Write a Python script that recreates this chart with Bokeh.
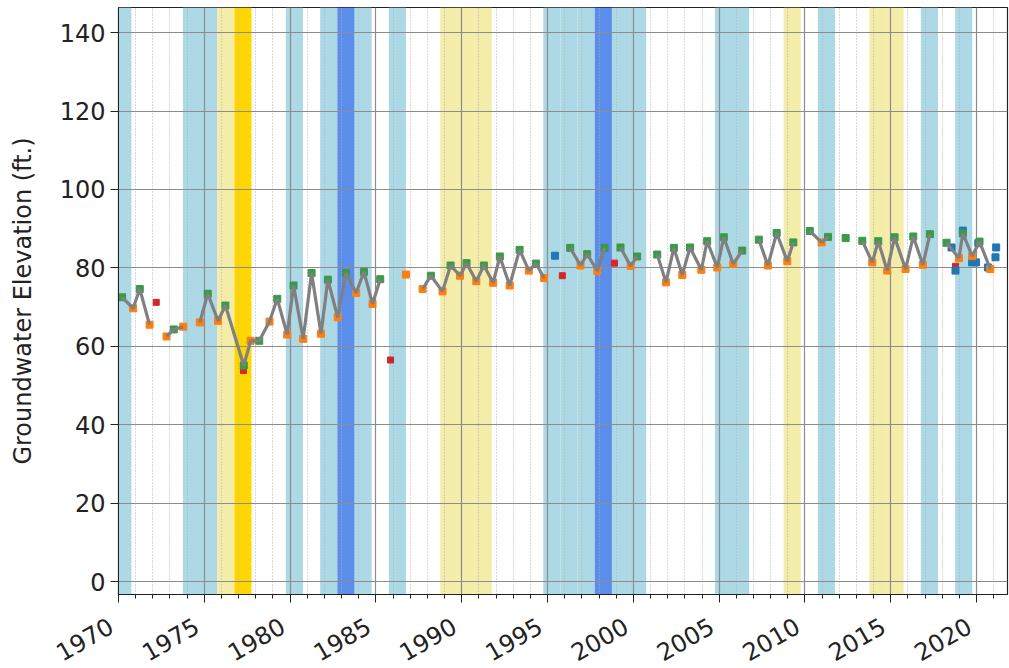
import numpy as np
from math import pi
from bokeh.plotting import figure
from bokeh.layouts import column
from bokeh.models import Range1d, FixedTicker
from bokeh.embed import file_html
from bokeh.resources import INLINE

# Water-year classification (water year N runs Oct N-1 .. Sep N)
wet_years = [1970, 1974, 1975, 1980, 1982, 1984, 1986, 1995, 1996, 1997,
             1999, 2000, 2005, 2006, 2011, 2017, 2019]
very_wet_years = [1983, 1998]
dry_years = [1976, 1989, 1990, 1991, 2009, 2014, 2015]
critical_years = [1977]

# Semi-annual well readings (S = spring, F = fall); None = missing or rejected
meas_year = [1970.21, 1970.85, 1971.24, 1971.81, 1972.25, 1972.80, 1973.22, 1973.77,
             1974.25, 1974.74, 1975.20, 1975.80, 1976.23, 1977.30, 1977.70, 1978.20,
             1978.80, 1979.25, 1979.83, 1980.20, 1980.76, 1981.25, 1981.80, 1982.20,
             1982.77, 1983.25, 1983.85, 1984.30, 1984.80, 1985.25, 1985.85, 1986.25,
             1986.75, 1987.25, 1987.72, 1988.20, 1988.88, 1989.35, 1989.90, 1990.28,
             1990.85, 1991.29, 1991.83, 1992.22, 1992.79, 1993.37, 1993.91, 1994.32,
             1994.80, 1995.43, 1995.86, 1996.32, 1996.92, 1997.31, 1997.90, 1998.32,
             1998.90, 1999.25, 1999.84, 2000.22, 2000.85, 2001.39, 2001.90, 2002.36,
             2002.85, 2003.30, 2003.96, 2004.30, 2004.89, 2005.27, 2005.82, 2006.34,
             2006.85, 2007.31, 2007.84, 2008.35, 2008.97, 2009.32, 2009.85, 2010.28,
             2010.97, 2011.34, 2011.85, 2012.37, 2012.85, 2013.34, 2013.92, 2014.27,
             2014.79, 2015.22, 2015.86, 2016.31, 2016.87, 2017.28, 2017.85, 2018.25,
             2018.97, 2019.20, 2019.74, 2020.17, 2020.80]
meas_elev = [72.5, 69.7, 74.6, 65.5, None, 62.5, 64.3, 65.0,
             None, 66.1, 73.4, 66.5, 70.4, 55.1, 61.4, 61.4,
             66.3, 72.1, 63.0, 75.5, 61.9, 78.7, 63.2, 77.0,
             67.4, 78.7, 73.6, 79.0, 70.8, 77.1, None, None,
             78.3, None, 74.6, 78.0, 74.0, 80.6, 78.0, 81.2,
             76.6, 80.6, 76.2, 82.9, 75.5, 84.6, 79.3, 81.1,
             77.4, None, None, 85.1, 80.6, 83.5, 79.2, 85.1,
             None, 85.2, 80.5, 82.9, None, 83.4, 76.3, 85.1,
             78.2, 85.2, 79.5, 86.8, 80.1, 87.8, 81.0, 84.4,
             None, 87.2, 80.6, 88.9, 81.7, 86.5, None, 89.4,
             86.5, 87.9, None, 87.6, None, 86.9, 81.4, 86.8,
             79.3, 87.8, 79.7, 88.0, 80.8, 88.6, None, 86.4,
             82.5, 88.8, 83.0, 86.7, 79.7]
meas_season = ["S", "F", "S", "F", "S", "F", "S", "F",
               "S", "F", "S", "F", "S", "S", "F", "S",
               "F", "S", "F", "S", "F", "S", "F", "S",
               "F", "S", "F", "S", "F", "S", "F", "S",
               "F", "S", "F", "S", "F", "S", "F", "S",
               "F", "S", "F", "S", "F", "S", "F", "S",
               "F", "S", "F", "S", "F", "S", "F", "S",
               "F", "S", "F", "S", "F", "S", "F", "S",
               "F", "S", "F", "S", "F", "S", "F", "S",
               "F", "S", "F", "S", "F", "S", "F", "S",
               "F", "S", "F", "S", "F", "S", "F", "S",
               "F", "S", "F", "S", "F", "S", "F", "S",
               "F", "S", "F", "S", "F"]

# Questionable readings
flag_year = [1972.20, 1977.28, 1985.85, 1995.86, 1998.90, 2018.77]
flag_elev = [71.2, 53.8, 56.5, 78.0, 81.2, 80.4]

# Readings from supplemental monitoring
other_year = [1995.43, 2018.54, 2018.77, 2019.20, 2019.74, 2019.97, 2020.10,
              2020.66, 2021.10, 2021.14]
other_elev = [83.1, 85.2, 79.3, 89.5, 81.4, 81.4, 86.3, 80.1, 82.7, 85.2]

x_ticks = [1970, 1975, 1980, 1985, 1990, 1995, 2000, 2005, 2010, 2015, 2020]
x_tick_labels = ["1970", "1975", "1980", "1985", "1990", "1995", "2000", "2005",
                 "2010", "2015", "2020"]
y_ticks = [0, 20, 40, 60, 80, 100, 120, 140]

X0, X1 = 1970.0, 2021.8
Y0, Y1 = -3.3, 146.4
FONT = "DejaVu Sans"
INK = "#222222"

W = 1009
LEFT, RIGHT = 118, 2          # frame margins (px)
MAIN_H, STRIP_H = 604, 64     # chart and year-label strip heights (px)

p = figure(width=W, height=MAIN_H, output_backend="svg", toolbar_location=None,
           x_range=Range1d(X0, X1), y_range=Range1d(Y0, Y1),
           min_border_left=LEFT, min_border_right=RIGHT, min_border_top=7,
           min_border_bottom=10)
p.frame_align = False
p.background_fill_color = "white"
p.border_fill_color = "white"
p.outline_line_color = INK
p.outline_line_width = 1.2


def bands(years, color, alpha=1.0):
    yrs = np.array(years, dtype=float)
    p.quad(left=yrs - 0.25, right=yrs + 0.75, bottom=Y0, top=Y1,
           fill_color=color, fill_alpha=alpha, line_color=None, level="image")


bands(wet_years, "#ADD8E6")
bands(very_wet_years, "#5B8DEB")
bands(dry_years, "#F0E68C", 0.75)
bands(critical_years, "#FFD700")

# Grid
minor_years = list(range(1970, 2022))
p.xgrid.ticker = FixedTicker(ticks=x_ticks, minor_ticks=minor_years)
p.xgrid.grid_line_color = "#8c8c8c"
p.xgrid.grid_line_width = 1.2
p.xgrid.minor_grid_line_color = "#b0b0b0"
p.xgrid.minor_grid_line_dash = "1 2"
p.xgrid.minor_grid_line_width = 1
p.ygrid.ticker = FixedTicker(ticks=y_ticks)
p.ygrid.grid_line_color = "#8c8c8c"
p.ygrid.grid_line_width = 1.2

# Measurements
yr = np.array(meas_year, dtype=float)
ev = np.array([np.nan if v is None else v for v in meas_elev], dtype=float)
season = np.array(meas_season)
spring = (season == "S") & ~np.isnan(ev)
fall = (season == "F") & ~np.isnan(ev)

p.scatter(flag_year, flag_elev, marker="square", size=6, fill_color="#d62728",
          line_color="#d62728")
p.scatter(other_year, other_elev, marker="square", size=7, fill_color="#1f77b4",
          line_color="#1f77b4")
p.scatter(yr[spring], ev[spring], marker="square", size=7, fill_color="#3a9a48",
          line_color="#3a9a48")
p.scatter(yr[fall], ev[fall], marker="square", size=7, fill_color="#ff7f0e",
          line_color="#ff7f0e")
p.line(yr, ev, line_color="#808080", line_width=3.2)

# Axes: the x axis carries tick marks; its year labels sit in the strip below
p.xaxis.ticker = FixedTicker(ticks=x_ticks, minor_ticks=minor_years)
p.xaxis.major_label_text_color = None
p.xaxis.major_label_standoff = 0
p.yaxis.ticker = FixedTicker(ticks=y_ticks)
p.yaxis.axis_label = "Groundwater Elevation (ft.)"
for ax in (p.xaxis[0], p.yaxis[0]):
    ax.axis_line_color = INK
    ax.major_tick_line_color = INK
    ax.minor_tick_line_color = INK
    ax.major_tick_out = 8
    ax.major_tick_in = 0
    ax.minor_tick_out = 4
    ax.minor_tick_in = 0
p.yaxis.major_label_text_font = FONT
p.yaxis.major_label_text_font_size = "24px"
p.yaxis.major_label_text_color = INK
p.yaxis.minor_tick_line_color = None
p.yaxis.axis_label_text_font = FONT
p.yaxis.axis_label_text_font_size = "24px"
p.yaxis.axis_label_text_font_style = "normal"
p.yaxis.axis_label_text_color = INK
p.yaxis.axis_label_standoff = 20
p.yaxis.major_label_standoff = 5

# Year-label strip sharing the chart's horizontal scale across the full width
px_per_year = (W - LEFT - RIGHT) / (X1 - X0)
strip = figure(width=W, height=STRIP_H, output_backend="svg", toolbar_location=None,
               x_range=Range1d(X0 - LEFT / px_per_year, X1 + RIGHT / px_per_year),
               y_range=Range1d(0, STRIP_H), min_border=0,
               x_axis_location=None, y_axis_location=None)
strip.frame_align = False
strip.grid.visible = False
strip.outline_line_color = None
strip.background_fill_color = "white"
strip.border_fill_color = "white"
LABEL_Y = 37
strip.text(x=x_ticks, y=[LABEL_Y] * len(x_ticks), text=x_tick_labels,
           angle=pi / 6, text_align="right", text_baseline="bottom",
           x_offset=-3, text_font={"value": FONT}, text_font_size="24px",
           text_color=INK)

open("out.html", "w").write(file_html(column(p, strip, spacing=0), INLINE))
